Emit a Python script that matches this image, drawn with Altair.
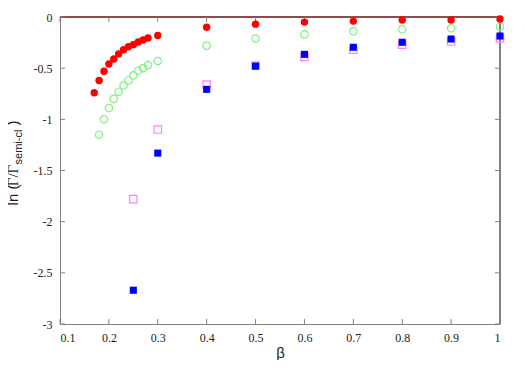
import altair as alt
import pandas as pd

# ---- data ----
red_x = [0.17, 0.18, 0.19, 0.20, 0.21, 0.22, 0.23, 0.24, 0.25, 0.26, 0.27, 0.28, 0.30,
         0.4, 0.5, 0.6, 0.7, 0.8, 0.9, 1.0]
red_y = [-0.74, -0.62, -0.53, -0.46, -0.41, -0.36, -0.32, -0.29, -0.27, -0.245, -0.225, -0.205, -0.18,
         -0.10, -0.07, -0.05, -0.04, -0.03, -0.03, -0.02]

green_x = [0.18, 0.19, 0.20, 0.21, 0.22, 0.23, 0.24, 0.25, 0.26, 0.27, 0.28, 0.30,
           0.4, 0.5, 0.6, 0.7, 0.8, 0.9, 1.0]
green_y = [-1.15, -1.0, -0.89, -0.80, -0.73, -0.67, -0.62, -0.57, -0.525, -0.50, -0.47, -0.43,
           -0.28, -0.21, -0.17, -0.14, -0.12, -0.11, -0.095]

blue_x = [0.25, 0.3, 0.4, 0.5, 0.6, 0.7, 0.8, 0.9, 1.0]
blue_y = [-2.67, -1.33, -0.707, -0.48, -0.365, -0.296, -0.247, -0.215, -0.186]

pink_x = [0.25, 0.3, 0.4, 0.5, 0.6, 0.7, 0.8, 0.9, 1.0]
pink_y = [-1.78, -1.10, -0.66, -0.475, -0.39, -0.32, -0.27, -0.24, -0.21]

x_ticks = [0.1, 0.2, 0.3, 0.4, 0.5, 0.6, 0.7, 0.8, 0.9, 1.0]
y_ticks = [0, -0.5, -1, -1.5, -2, -2.5, -3]

W, H = 440, 307
GRAY = "#808080"
SERIF = "Liberation Serif, Times New Roman, serif"
SANS = "Liberation Sans, Arial, Helvetica, sans-serif"

xs = alt.Scale(domain=[0.1, 1.0], nice=False, zero=False)
ys = alt.Scale(domain=[-3, 0], nice=False, zero=False)

xaxis = alt.Axis(values=x_ticks, labelExpr="toString(datum.value)", title="β",
                 grid=False, ticks=False, domainColor=GRAY, labelFont=SERIF,
                 labelFontSize=12, labelColor="#222", labelPadding=8,
                 titleFont=SANS, titleFontSize=15, titleFontWeight="normal",
                 titlePadding=2, titleColor="#222")
yaxis = alt.Axis(values=y_ticks, labelExpr="toString(datum.value)", title=None,
                 grid=False, ticks=False, domainColor=GRAY, labelFont=SERIF,
                 labelFontSize=12, labelColor="#222", labelPadding=8)

X = lambda f: alt.X(f, type="quantitative", scale=xs, axis=xaxis)
Y = lambda f: alt.Y(f, type="quantitative", scale=ys, axis=yaxis)

df_red = pd.DataFrame({"x": red_x, "y": red_y})
df_green = pd.DataFrame({"x": green_x, "y": green_y})
df_blue = pd.DataFrame({"x": blue_x, "y": blue_y})
df_pink = pd.DataFrame({"x": pink_x, "y": pink_y})
df_xt = pd.DataFrame({"x": x_ticks})
df_yt = pd.DataFrame({"y": y_ticks})
df_zero = pd.DataFrame({"y": [0]})
one = pd.DataFrame({"a": [0]})

# frame pieces
zero_line = alt.Chart(df_zero).mark_rule(color="#6a1010", strokeWidth=1.5).encode(
    y=Y("y"), x=alt.value(0), x2=alt.value(W))
right_line = alt.Chart(one).mark_rule(color=GRAY, strokeWidth=2).encode(
    x=alt.value(W), y=alt.value(0), y2=alt.value(H))

tick_bottom = alt.Chart(df_xt).mark_rule(color=GRAY).encode(
    x=X("x"), y=alt.value(H), y2=alt.value(H - 5))
tick_top = alt.Chart(df_xt).mark_rule(color=GRAY).encode(
    x=X("x"), y=alt.value(0), y2=alt.value(5))
tick_left = alt.Chart(df_yt).mark_rule(color=GRAY).encode(
    y=Y("y"), x=alt.value(0), x2=alt.value(5))
tick_right = alt.Chart(df_yt).mark_rule(color=GRAY).encode(
    y=Y("y"), x=alt.value(W - 5), x2=alt.value(W))

pink = alt.Chart(df_pink).mark_point(shape="square", filled=False, color="#ff80ff",
                                     size=55, strokeWidth=1.2, opacity=1).encode(x=X("x"), y=Y("y"))
blue = alt.Chart(df_blue).mark_point(shape="square", filled=True, color="#0000ff",
                                     size=50, opacity=1).encode(x=X("x"), y=Y("y"))
green = alt.Chart(df_green).mark_point(shape="circle", filled=False, color="#80f080",
                                       size=55, strokeWidth=1.2, opacity=1).encode(x=X("x"), y=Y("y"))
red = alt.Chart(df_red).mark_point(shape="circle", filled=True, color="#ff0000",
                                   size=55, opacity=1).encode(x=X("x"), y=Y("y"))


def vtext(txt, x, y, font, size):
    return alt.Chart(one).mark_text(text=txt, angle=270, align="center", baseline="middle",
                                    font=font, fontSize=size, color="#222").encode(
        x=alt.value(x), y=alt.value(y))


# rotated y-axis title with subscript
t1 = vtext("ln (", -47, 178, SANS, 15)
t2 = vtext("Γ/Γ", -47, 158.5, SERIF, 15)
t3 = vtext("semi-cl", -41, 130, SANS, 11)
t4 = vtext(")", -47, 106, SANS, 15)

chart = alt.layer(
    zero_line, right_line, tick_bottom, tick_top, tick_left, tick_right,
    pink, blue, green, red, t1, t2, t3, t4
).properties(
    width=W, height=H,
    autosize=alt.AutoSizeParams(type="none"),
    padding={"left": 52, "top": 9, "right": 17, "bottom": 36},
).configure_view(stroke=None)

chart.save("out.html", embed_options={"renderer": "svg", "actions": False})
